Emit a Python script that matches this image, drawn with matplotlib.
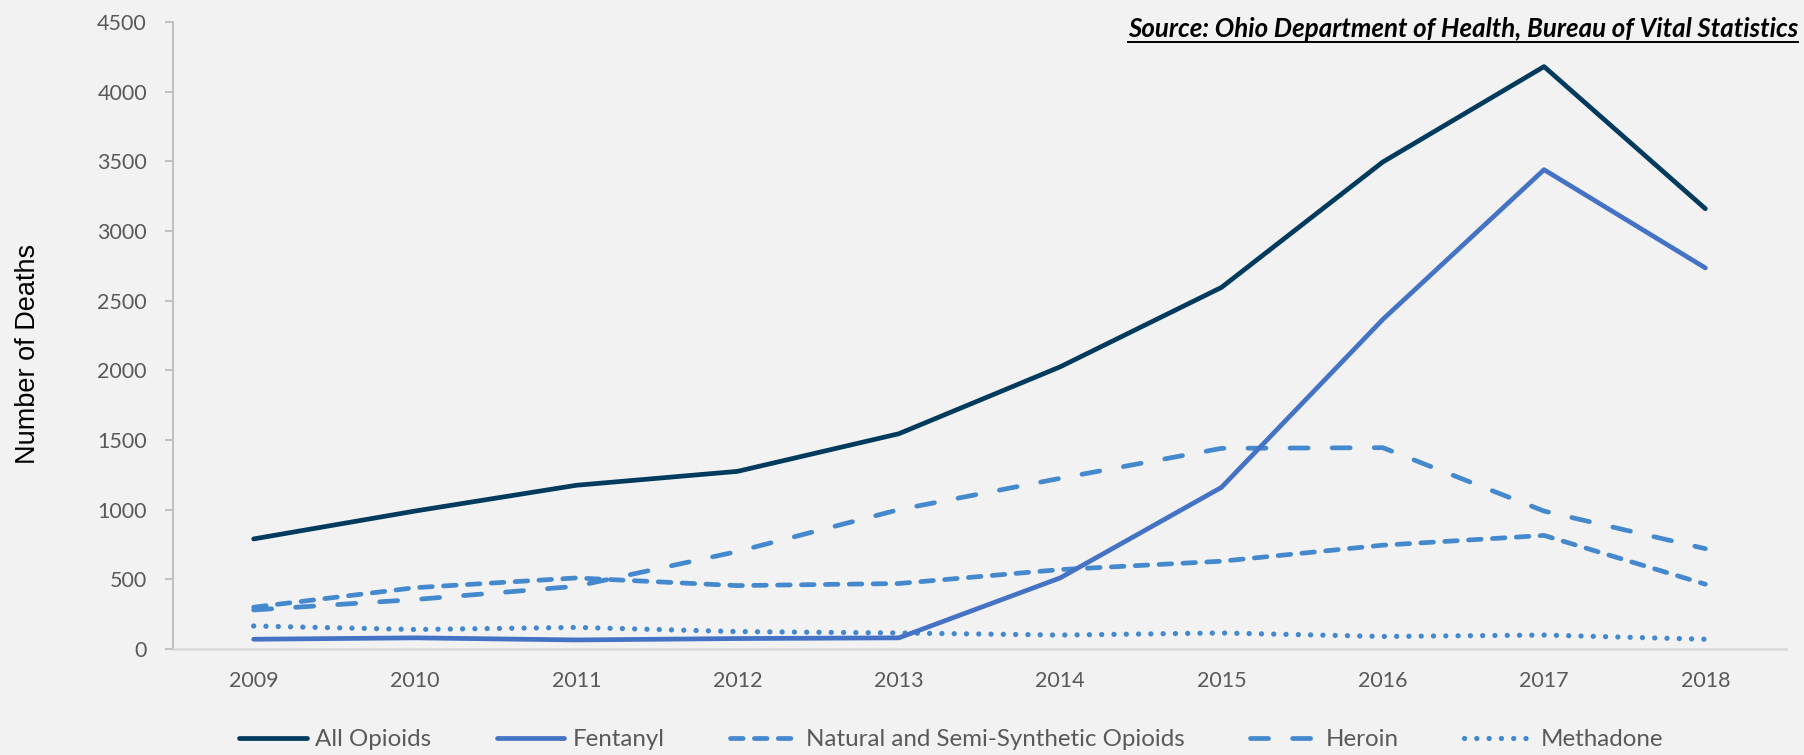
import matplotlib
matplotlib.use("Agg")
import matplotlib.pyplot as plt
from matplotlib.lines import Line2D

# Ohio unintentional overdose deaths by opioid type
years = ["2009", "2010", "2011", "2012", "2013", "2014", "2015", "2016", "2017", "2018"]
all_opioids = [790, 990, 1175, 1275, 1545, 2025, 2595, 3495, 4180, 3160]
fentanyl = [70, 80, 65, 75, 80, 510, 1160, 2365, 3440, 2735]
natural_semi = [300, 440, 510, 455, 470, 570, 630, 745, 815, 465]
heroin = [280, 355, 450, 700, 1000, 1225, 1440, 1445, 990, 720]
methadone = [165, 140, 155, 125, 115, 100, 115, 90, 100, 70]

series_names = ["All Opioids", "Fentanyl", "Natural and Semi-Synthetic Opioids",
                "Heroin", "Methadone"]
y_ticks = [0, 500, 1000, 1500, 2000, 2500, 3000, 3500, 4000, 4500]
source_note = "Source: Ohio Department of Health, Bureau of Vital Statistics"

plt.rcParams["lines.scale_dashes"] = False
BG = "#F2F2F2"
TXT = "#595959"
FONT = ["Lato", "DejaVu Sans"]

W, H = 1804, 755
fig = plt.figure(figsize=(W / 100, H / 100), dpi=100, facecolor=BG)
ax = fig.add_axes([173 / W, 1 - 649 / H, (1786 - 173) / W, (649 - 22) / H])
ax.set_facecolor(BG)

x = list(range(len(years)))
lw = 3.4
dark = "#003A5C"
mid = "#4472C4"
light = "#4488CE"

ax.plot(x, all_opioids, color=dark, lw=lw, solid_capstyle="round",
        solid_joinstyle="round", label=series_names[0], zorder=6)
ax.plot(x, fentanyl, color=mid, lw=lw, solid_capstyle="round",
        solid_joinstyle="round", label=series_names[1], zorder=5)
ax.plot(x, natural_semi, color=light, lw=lw, dashes=(9.1, 8.1),
        dash_capstyle="round", dash_joinstyle="round",
        label=series_names[2], zorder=4)
ax.plot(x, heroin, color=light, lw=lw, dashes=(13.0, 17.3),
        dash_capstyle="round", dash_joinstyle="round",
        label=series_names[3], zorder=3)
ax.plot(x, methadone, color=light, lw=3.8, dashes=(0.05, 8.8),
        dash_capstyle="round", label=series_names[4], zorder=2)

ax.set_xlim(-0.5, len(years) - 0.5)
ax.set_ylim(0, 4500)
ax.set_xticks(x)
ax.set_xticklabels(years)
ax.set_yticks(y_ticks)
ax.set_yticklabels([str(v) for v in y_ticks])

for lab in ax.get_xticklabels() + ax.get_yticklabels():
    lab.set_family(FONT)
    lab.set_fontsize(15.5)
    lab.set_color(TXT)

ax.tick_params(axis="y", direction="out", length=5.8, width=1.4,
               color="#BFBFBF", pad=13)
ax.tick_params(axis="x", length=0, pad=16)

for side in ("top", "right"):
    ax.spines[side].set_visible(False)
ax.spines["left"].set_color("#BFBFBF")
ax.spines["left"].set_linewidth(1.4)
ax.spines["bottom"].set_color("#D9D9D9")
ax.spines["bottom"].set_linewidth(1.8)

fig.text(28 / W, 1 - 354 / H, "Number of Deaths", rotation=90,
         ha="center", va="center", fontsize=19.5,
         family=["Liberation Sans", "DejaVu Sans"], color="black")

src = fig.text(1798 / W, 1 - 37 / H, source_note, ha="right", va="baseline",
               fontsize=18.6, fontweight="bold", fontstyle="italic",
               family=FONT, color="black")

leg = fig.legend(loc="center", bbox_to_anchor=(951 / W, 1 - 740 / H),
                 ncol=5, frameon=False, handlelength=2.8, handletextpad=0.35,
                 columnspacing=2.7, prop={"family": FONT, "size": 17.4})
for t in leg.get_texts():
    t.set_color(TXT)

# underline the source note
fig.canvas.draw()
bb = src.get_window_extent(renderer=fig.canvas.get_renderer())
uy = (bb.y0 - 1.0) / H
fig.add_artist(Line2D([bb.x0 / W, bb.x1 / W], [uy, uy], color="black",
                      lw=1.4, transform=fig.transFigure))

fig.savefig("out.png", dpi=100, facecolor=BG)
